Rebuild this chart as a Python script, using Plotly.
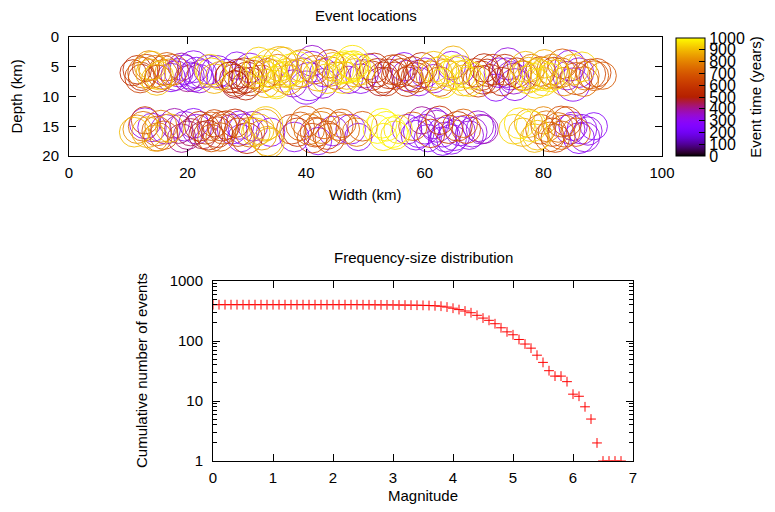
import math
import numpy as np
import plotly.graph_objects as go

# ---------------- data: event locations ----------------
x_km = [
    11.5, 12.5, 13, 13.8, 14.5, 15.2, 16, 16.8, 17.5, 12.2, 14, 15.8,
    18.5, 19.5, 20.5, 21.5, 22.5, 20, 23.5, 19, 21,
    24, 25, 25.5, 26.5, 23.8,
    27, 27.8, 28.5, 29.2, 30, 30.6, 28, 29.5, 27.5, 31, 28.8, 29.2, 28.3,
    31.5, 32.2, 33, 33.8, 34.5, 35.2, 36, 36.8, 37.5, 38.2, 39, 32.5, 34, 35.5, 37, 38.5, 33.5, 36.5,
    39.5, 40.5, 41.5, 42, 43, 44, 45, 41, 43.5, 40, 44.5,
    45.5, 46, 46.5, 47, 47.5, 48, 48.5, 49, 46.8, 48.2, 49.8, 47.2,
    51, 52, 53, 54, 55, 52.5, 54.5, 50.5,
    56, 57, 58, 59, 60, 57.5, 59.5, 56.5, 58.5, 58.2,
    61, 62, 63, 64, 65, 66, 67, 68, 62.5, 64.5, 66.5, 63.5, 65.5, 61.5,
    68.5, 69.5, 70.5, 71, 69, 70,
    72.5, 73.5, 74.5, 75.5, 73, 75, 74, 76.5, 72,
    76.8, 77.5, 78.2, 79, 79.8, 80.5, 81.2, 82, 78, 80, 81.5, 77.2, 79.5,
    83, 84, 85, 86, 87, 88, 84.5, 86.5, 83.5, 88.5, 85.5,
    12, 13.5, 15, 16.5, 18, 10.8, 14.8, 17.2,
    21, 22, 24.5,
    28, 29.8, 30.5, 27.2,
    32, 33.2, 34.8, 36.2, 37.8, 39.2, 35,
    41, 42.8, 44,
    46.2, 47.8, 49.2,
    51.5, 53.5, 55.5,
    57, 59,
    61.5, 63, 64.8, 66, 67.5,
    69.8, 71.5,
    73.8, 75.2,
    77, 78.8, 80.2, 81.8, 83.2,
    85, 86.8, 89, 90,
    11.5, 12.5, 13.2, 14, 14.8, 15.5, 16.3, 17, 12.8, 14.5, 16, 13.5,
    18.5, 19.5, 20.5, 21.5, 19, 21, 22.5,
    23, 24, 25, 26, 24.5, 25.5, 23.5, 26.5, 24.8,
    27.5, 28.5, 29.5, 30.5, 29, 28, 31,
    32, 33, 33.5, 34, 32.5, 33.2,
    37.5, 39, 40.5, 41.5, 42.5, 43.5, 44.5, 45.5, 41, 43, 42, 46.5, 38.5,
    47.5, 48.5, 49.5,
    52, 53.5, 54.5, 55.5, 53,
    57, 58, 59, 60, 61, 62, 63, 64, 65, 66, 67, 68, 69, 60.5, 62.5, 64.5, 66.5, 59.5, 63.5, 70,
    75, 76.5, 78, 79, 77.5,
    79.5, 80.5, 81.5, 82.5, 83.5, 84.5, 85.5, 86.5, 87.5, 80, 82, 84, 86, 83, 81,
    11, 12.8, 15, 17.8, 20, 22, 24, 25.8, 28.8, 30, 33.8, 31.5, 38, 40, 42, 44, 46,
    48.8, 52.8, 55, 58.5, 61.5, 63, 65.5, 67.5, 69.5, 76, 78.5, 81, 83, 85, 87, 88.5,
]
depth_km = [
    5.5, 6, 5.2, 6.2, 5.8, 6.5, 5.6, 6, 5.5, 6.8, 4.8, 6.3,
    6, 5.5, 6.5, 6, 6.2, 7, 5.5, 5, 6.8,
    6, 5.8, 6.5, 6, 5.5,
    6.5, 7, 6.2, 7.3, 6.8, 7.5, 7.8, 6, 5.8, 6.3, 6.5, 7, 4.8,
    6, 5.5, 6.5, 5.8, 6.2, 5.5, 6.8, 6, 5.5, 6.3, 6, 7, 4.8, 4.5, 7.2, 5, 6, 6.3,
    6, 7.5, 5.5, 6.5, 6, 5.8, 6.5, 4, 7, 8.5, 5,
    5.5, 5.2, 5.0, 5.3, 5, 4.8, 5.2, 5.5, 6.5, 6, 6.2, 7.2,
    6.5, 6, 6.8, 6.2, 6.5, 7.5, 5.5, 5,
    6, 6.5, 5.8, 6.3, 6, 7, 5.2, 5, 6.8, 6.2,
    6.5, 6, 5.5, 6.5, 6, 6.5, 6.2, 6.5, 7.5, 4.8, 7.3, 6, 5.5, 7,
    6, 6.5, 6, 7, 7.5, 5.2,
    6, 5.5, 6.5, 6, 7.5, 7, 4.5, 6.5, 8.5,
    6.5, 6, 6.8, 6.2, 6.5, 6, 6.8, 6.3, 5.2, 7.5, 5.5, 7.2, 5.8,
    6, 6.5, 5.5, 6, 6.5, 6.2, 4.8, 5, 7.5, 6.5, 7,
    6.8, 4.8, 7, 5, 6.5, 6, 7.2, 6.8,
    5, 7, 7,
    8, 8.2, 5.2, 6.8,
    4.2, 7.8, 7.5, 4.2, 7.8, 4.8, 8,
    5, 7.8, 4.5,
    6.8, 4.2, 7,
    5.2, 7.5, 5.5,
    7.5, 7.5,
    5, 7.8, 4.2, 5.5, 7.5,
    7.2, 5.5,
    6, 8,
    5, 7.8, 4.5, 6, 4.5,
    8, 7.5, 6, 6.5,
    15.5, 15, 16, 15.2, 15.8, 15, 15.5, 15.3, 14, 17, 16.5, 15.6,
    15.5, 15, 16, 15.5, 17, 14.5, 16.5,
    15.5, 15, 16, 15.5, 14.5, 16.8, 16.5, 14.8, 15.5,
    15.5, 16, 15.5, 16, 17, 14.5, 15,
    15.5, 14.8, 17.5, 16, 16.5, 14.5,
    15.5, 15, 15.5, 16, 15.2, 16.5, 15.8, 15, 17, 14.5, 17.5, 15.5, 16,
    15.5, 16, 15,
    15.5, 15, 16, 15.5, 16.8,
    15.5, 15, 16, 15.5, 16.2, 15, 16, 15.5, 16.5, 15.8, 15.5, 16, 15, 17, 14, 17.2, 14.5, 14, 16.8, 15.5,
    15.5, 16, 15, 16.5, 14.5,
    15.5, 15, 16, 15.2, 15.8, 15.5, 16, 15.5, 15.8, 14, 17, 14.2, 17, 16.5, 15.5,
    16, 14.5, 16.8, 14.5, 16.5, 15, 17, 15, 14.8, 17, 17.8, 16, 16.8, 14.2, 16, 17, 14.5,
    16.8, 14.5, 16.5, 16.5, 14.5, 17.5, 15, 16.5, 15.5, 14.5, 17, 16.8, 14.2, 15, 16.8, 15,
]
radius_km = [
    2.4, 2.6, 2.3, 2.5, 2.7, 2.4, 2.5, 2.3, 2.6, 2.2, 2.4, 2.5,
    2.4, 2.5, 2.3, 2.6, 2.4, 2.2, 2.5, 2.3, 2.4,
    2.5, 2.7, 2.4, 2.3, 2.6,
    2.3, 2.4, 2.5, 2.3, 2.6, 2.4, 2.2, 2.5, 0.1, 2.4, 0.1, 0.15, 2.3,
    2.6, 2.4, 2.5, 2.7, 2.4, 2.6, 2.5, 2.4, 2.7, 2.5, 2.4, 2.3, 2.8, 2.9, 2.5, 2.6, 2.4, 2.2,
    2.5, 3.2, 2.4, 2.6, 2.4, 2.5, 2.3, 2.6, 2.5, 2.8, 2.4,
    2.5, 2.6, 2.7, 2.5, 2.6, 2.5, 2.4, 2.6, 2.3, 2.4, 2.4, 2.3,
    2.5, 2.4, 2.6, 2.5, 2.3, 2.4, 2.5, 2.2,
    2.4, 2.6, 2.5, 2.4, 2.5, 2.3, 2.6, 2.4, 2.5, 0.1,
    2.5, 2.6, 2.4, 2.5, 2.7, 2.5, 2.4, 2.3, 2.5, 2.4, 2.6, 2.3, 2.5, 2.4,
    2.4, 2.5, 2.3, 2.4, 2.6, 2.4,
    2.5, 2.6, 2.4, 2.5, 2.4, 2.6, 2.7, 2.5, 2.3,
    2.5, 2.6, 2.4, 2.6, 2.5, 2.7, 2.4, 2.5, 2.3, 2.4, 2.6, 2.3, 2.5,
    2.5, 2.4, 2.6, 2.5, 2.4, 2.5, 2.6, 2.5, 2.4, 2.5, 2.7,
    2.6, 2.5, 2.3, 2.4, 2.5, 2.2, 2.6, 2.4,
    2.7, 2.4, 2.5,
    2.3, 2.4, 2.5, 2.6,
    2.5, 2.4, 2.6, 2.5, 2.3, 2.7, 2.4,
    2.6, 2.5, 2.4,
    2.7, 2.8, 2.5,
    2.5, 2.4, 2.6,
    2.5, 2.4,
    2.6, 2.5, 2.7, 2.4, 2.5,
    2.4, 2.6,
    2.5, 2.7,
    2.6, 2.5, 2.4, 2.6, 2.5,
    2.8, 2.5, 2.4, 2.3,
    2.4, 2.5, 2.6, 2.4, 2.5, 2.7, 2.5, 2.4, 2.3, 2.2, 2.4, 0.1,
    2.4, 2.5, 2.3, 2.5, 2.4, 2.5, 2.3,
    2.5, 2.4, 2.6, 2.5, 2.3, 2.4, 2.5, 2.4, 0.1,
    2.5, 2.4, 2.6, 2.5, 2.3, 2.4, 2.5,
    2.6, 2.7, 2.5, 2.4, 2.5, 2.8,
    2.5, 2.4, 2.6, 2.5, 2.7, 2.4, 2.5, 2.4, 2.5, 2.6, 2.3, 2.5, 2.4,
    2.5, 2.4, 2.5,
    2.4, 2.5, 2.6, 2.4, 2.3,
    2.5, 2.4, 2.6, 2.5, 2.4, 2.7, 2.5, 2.4, 2.6, 2.5, 2.4, 2.5, 2.6, 2.3, 2.4, 2.5, 2.4, 2.3, 2.5, 2.4,
    2.5, 2.4, 2.6, 2.5, 2.4,
    2.5, 2.6, 2.4, 2.5, 2.7, 2.5, 2.4, 2.5, 2.4, 2.3, 2.4, 2.5, 2.6, 2.4, 0.1,
    2.5, 2.6, 2.4, 2.5, 2.4, 2.5, 2.3, 2.5, 2.4, 2.6, 2.5, 2.4, 2.5, 2.6, 2.4, 2.5, 2.4,
    2.3, 2.5, 2.4, 2.5, 2.6, 2.4, 2.5, 2.4, 2.5, 2.6, 2.4, 2.5, 2.6, 2.4, 2.5, 2.3,
]
time_yr = [
    560, 720, 610, 880, 780, 930, 650, 830, 700, 520, 900, 760,
    300, 280, 330, 260, 320, 410, 290, 380, 250,
    920, 300, 880, 270, 960,
    500, 520, 480, 540, 510, 560, 530, 490, 500, 600, 520, 510, 300,
    900, 950, 870, 980, 920, 760, 940, 890, 960, 850, 910, 720, 940, 880, 800, 970, 600, 930,
    330, 280, 720, 880, 300, 780, 640, 350, 920, 300, 860,
    960, 940, 980, 930, 970, 950, 990, 920, 900, 870, 330, 320,
    560, 520, 580, 530, 600, 480, 620, 330,
    580, 330, 600, 540, 300, 640, 560, 280, 620, 450,
    760, 900, 950, 880, 970, 930, 910, 960, 700, 300, 890, 820, 990, 340,
    560, 600, 540, 580, 620, 520,
    300, 560, 320, 580, 520, 350, 330, 600, 280,
    920, 880, 960, 900, 940, 860, 980, 890, 750, 930, 780, 910, 600,
    720, 330, 880, 300, 760, 650, 290, 940, 800, 700, 620,
    620, 810, 560, 700, 330, 540, 900, 270,
    300, 340, 880,
    470, 500, 310, 530,
    930, 880, 960, 900, 340, 780, 950,
    300, 340, 650,
    940, 960, 300,
    540, 570, 600,
    560, 310,
    910, 960, 880, 320, 940,
    560, 600,
    320, 300,
    900, 950, 880, 560, 700,
    300, 760, 650, 700,
    820, 740, 880, 300, 700, 780, 330, 900, 620, 860, 680, 750,
    420, 300, 440, 330, 400, 280, 460,
    600, 700, 560, 680, 640, 720, 520, 600, 600,
    300, 640, 280, 720, 320, 560, 340,
    900, 860, 880, 300, 840, 920,
    620, 700, 740, 660, 780, 600, 320, 700, 640, 720, 300, 760, 580,
    320, 760, 700,
    990, 980, 1000, 960, 970,
    320, 700, 280, 300, 620, 330, 260, 580, 310, 300, 680, 330, 340, 290, 560, 300, 720, 400, 320, 380,
    940, 880, 960, 900, 860,
    700, 760, 620, 740, 680, 330, 720, 300, 320, 800, 640, 660, 280, 720, 700,
    900, 320, 760, 380, 420, 560, 700, 620, 300, 560, 880, 920, 300, 720, 680, 640, 720,
    300, 990, 950, 300, 330, 280, 600, 320, 320, 960, 890, 720, 660, 300, 320, 280,
]
assert len(x_km) == len(depth_km) == len(radius_km) == len(time_yr)

# ---------------- data: frequency-size ----------------
magnitude = [round(0.1 * i, 1) for i in range(69)]
cum_events = [
    403, 403, 403, 403, 403, 403, 403, 403, 403, 403,
    403, 403, 403, 403, 403, 403, 403, 403, 403, 403,
    403, 403, 403, 403, 403, 402, 402, 401, 400, 400,
    399, 398, 397, 396, 395, 393, 390, 386, 380, 368,
    352, 334, 316, 296, 268, 241, 221, 194, 166, 142,
    127, 106, 89, 76, 58, 44, 32, 26, 26, 21,
    13, 12, 8, 5, 2, 1, 1, 1, 1,
]
assert len(magnitude) == len(cum_events)

# ---------------- styling ----------------
W, H = 775, 512
FONT = "Liberation Sans, Arial, sans-serif"
FS = 15

# gnuplot default palette (rgbformulae 7,5,15)
cscale = []
for i in range(41):
    v = i / 40
    r = math.sqrt(v)
    g = v ** 3
    b = max(0.0, min(1.0, math.sin(2 * math.pi * v)))
    cscale.append([v, f"rgb({round(r*255)},{round(g*255)},{round(b*255)})"])

# plot-area pixel geometry
tx0, tx1, ty0, ty1 = 69, 662, 37, 156
bx0, bx1, by0, by1 = 213, 633, 281, 461
px_per_km = (tx1 - tx0) / 100.0

order = np.argsort(np.array(time_yr), kind="stable")
xs = np.array(x_km)[order]
ds = np.array(depth_km)[order]
rs = np.array(radius_km)[order]
ts = np.array(time_yr)[order]
sizes = np.maximum(2 * rs * px_per_km, 2.0)

fig = go.Figure()
fig.add_trace(go.Scatter(
    x=xs, y=ds, mode="markers", xaxis="x", yaxis="y",
    marker=dict(
        symbol="circle-open", size=sizes, color=ts,
        colorscale=cscale, cmin=0, cmax=1000, opacity=0.85,
        line=dict(width=1),
        colorbar=dict(
            x=676 / W, xanchor="left", xref="paper", xpad=0,
            y=1 - 156 / H, yanchor="bottom", yref="paper", ypad=0,
            len=(156 - 38) / H, lenmode="fraction",
            thickness=29, thicknessmode="pixels",
            outlinewidth=1, outlinecolor="black",
            tickmode="array", tickvals=list(range(0, 1001, 100)),
            ticktext=[str(v) for v in range(0, 1001, 100)],
            ticks="inside", ticklen=6, tickcolor="black",
            tickfont=dict(family=FONT, size=16, color="black"),
            title=dict(text="Event time (years)", side="right",
                       font=dict(family=FONT, size=FS, color="black")),
        ),
    ),
    showlegend=False, hoverinfo="skip",
))

fig.add_trace(go.Scatter(
    x=magnitude, y=cum_events, mode="markers", xaxis="x2", yaxis="y2",
    marker=dict(symbol="cross-thin", size=7, color="red",
                line=dict(width=1, color="red")),
    showlegend=False,
))

axis_common = dict(
    showline=True, linecolor="black", linewidth=1, mirror="allticks",
    ticks="inside", ticklen=7, tickcolor="black", tickwidth=1,
    showgrid=False, zeroline=False,
    tickfont=dict(family=FONT, size=FS, color="black"),
)

def label(text, px, py, angle=0):
    return dict(text=text, x=px / W, y=1 - py / H, xref="paper", yref="paper",
                xanchor="center", yanchor="middle", textangle=angle, showarrow=False,
                font=dict(family=FONT, size=FS, color="black"))

fig.update_layout(
    width=W, height=H,
    margin=dict(l=0, r=0, t=0, b=0, autoexpand=False),
    paper_bgcolor="white", plot_bgcolor="white",
    font=dict(family=FONT, size=FS, color="black"),
    xaxis=dict(domain=[tx0 / W, tx1 / W], range=[0, 100], tickvals=[0, 20, 40, 60, 80, 100],
               ticklabelstandoff=3, anchor="y", **axis_common),
    yaxis=dict(domain=[1 - ty1 / H, 1 - ty0 / H], range=[20, 0], tickvals=[0, 5, 10, 15, 20],
               ticklabelstandoff=6, anchor="x", **axis_common),
    xaxis2=dict(domain=[bx0 / W, bx1 / W], range=[0, 7], tickvals=list(range(8)),
                ticklabelstandoff=3, anchor="y2", **axis_common),
    yaxis2=dict(domain=[1 - by1 / H, 1 - by0 / H], type="log", range=[0, 3],
                tickvals=[1, 10, 100, 1000], ticktext=["1", "10", "100", "1000"],
                minor=dict(ticks="inside", ticklen=4, tickcolor="black",
                           tickvals=[2, 3, 4, 5, 6, 7, 8, 9, 20, 30, 40, 50, 60, 70, 80, 90,
                                     200, 300, 400, 500, 600, 700, 800, 900]),
                ticklabelstandoff=6, anchor="x2", **axis_common),
    annotations=[
        label("Event locations", (tx0 + tx1) / 2, 15),
        label("Width (km)", (tx0 + tx1) / 2, 194),
        label("Depth (km)", 16, (ty0 + ty1) / 2, -90),
        label("Frequency-size distribution", (bx0 + bx1) / 2, 257),
        label("Magnitude", (bx0 + bx1) / 2, 495),
        label("Cumulative number of events", 141, (by0 + by1) / 2, -90),
    ],
)

fig.write_html("out.html")
